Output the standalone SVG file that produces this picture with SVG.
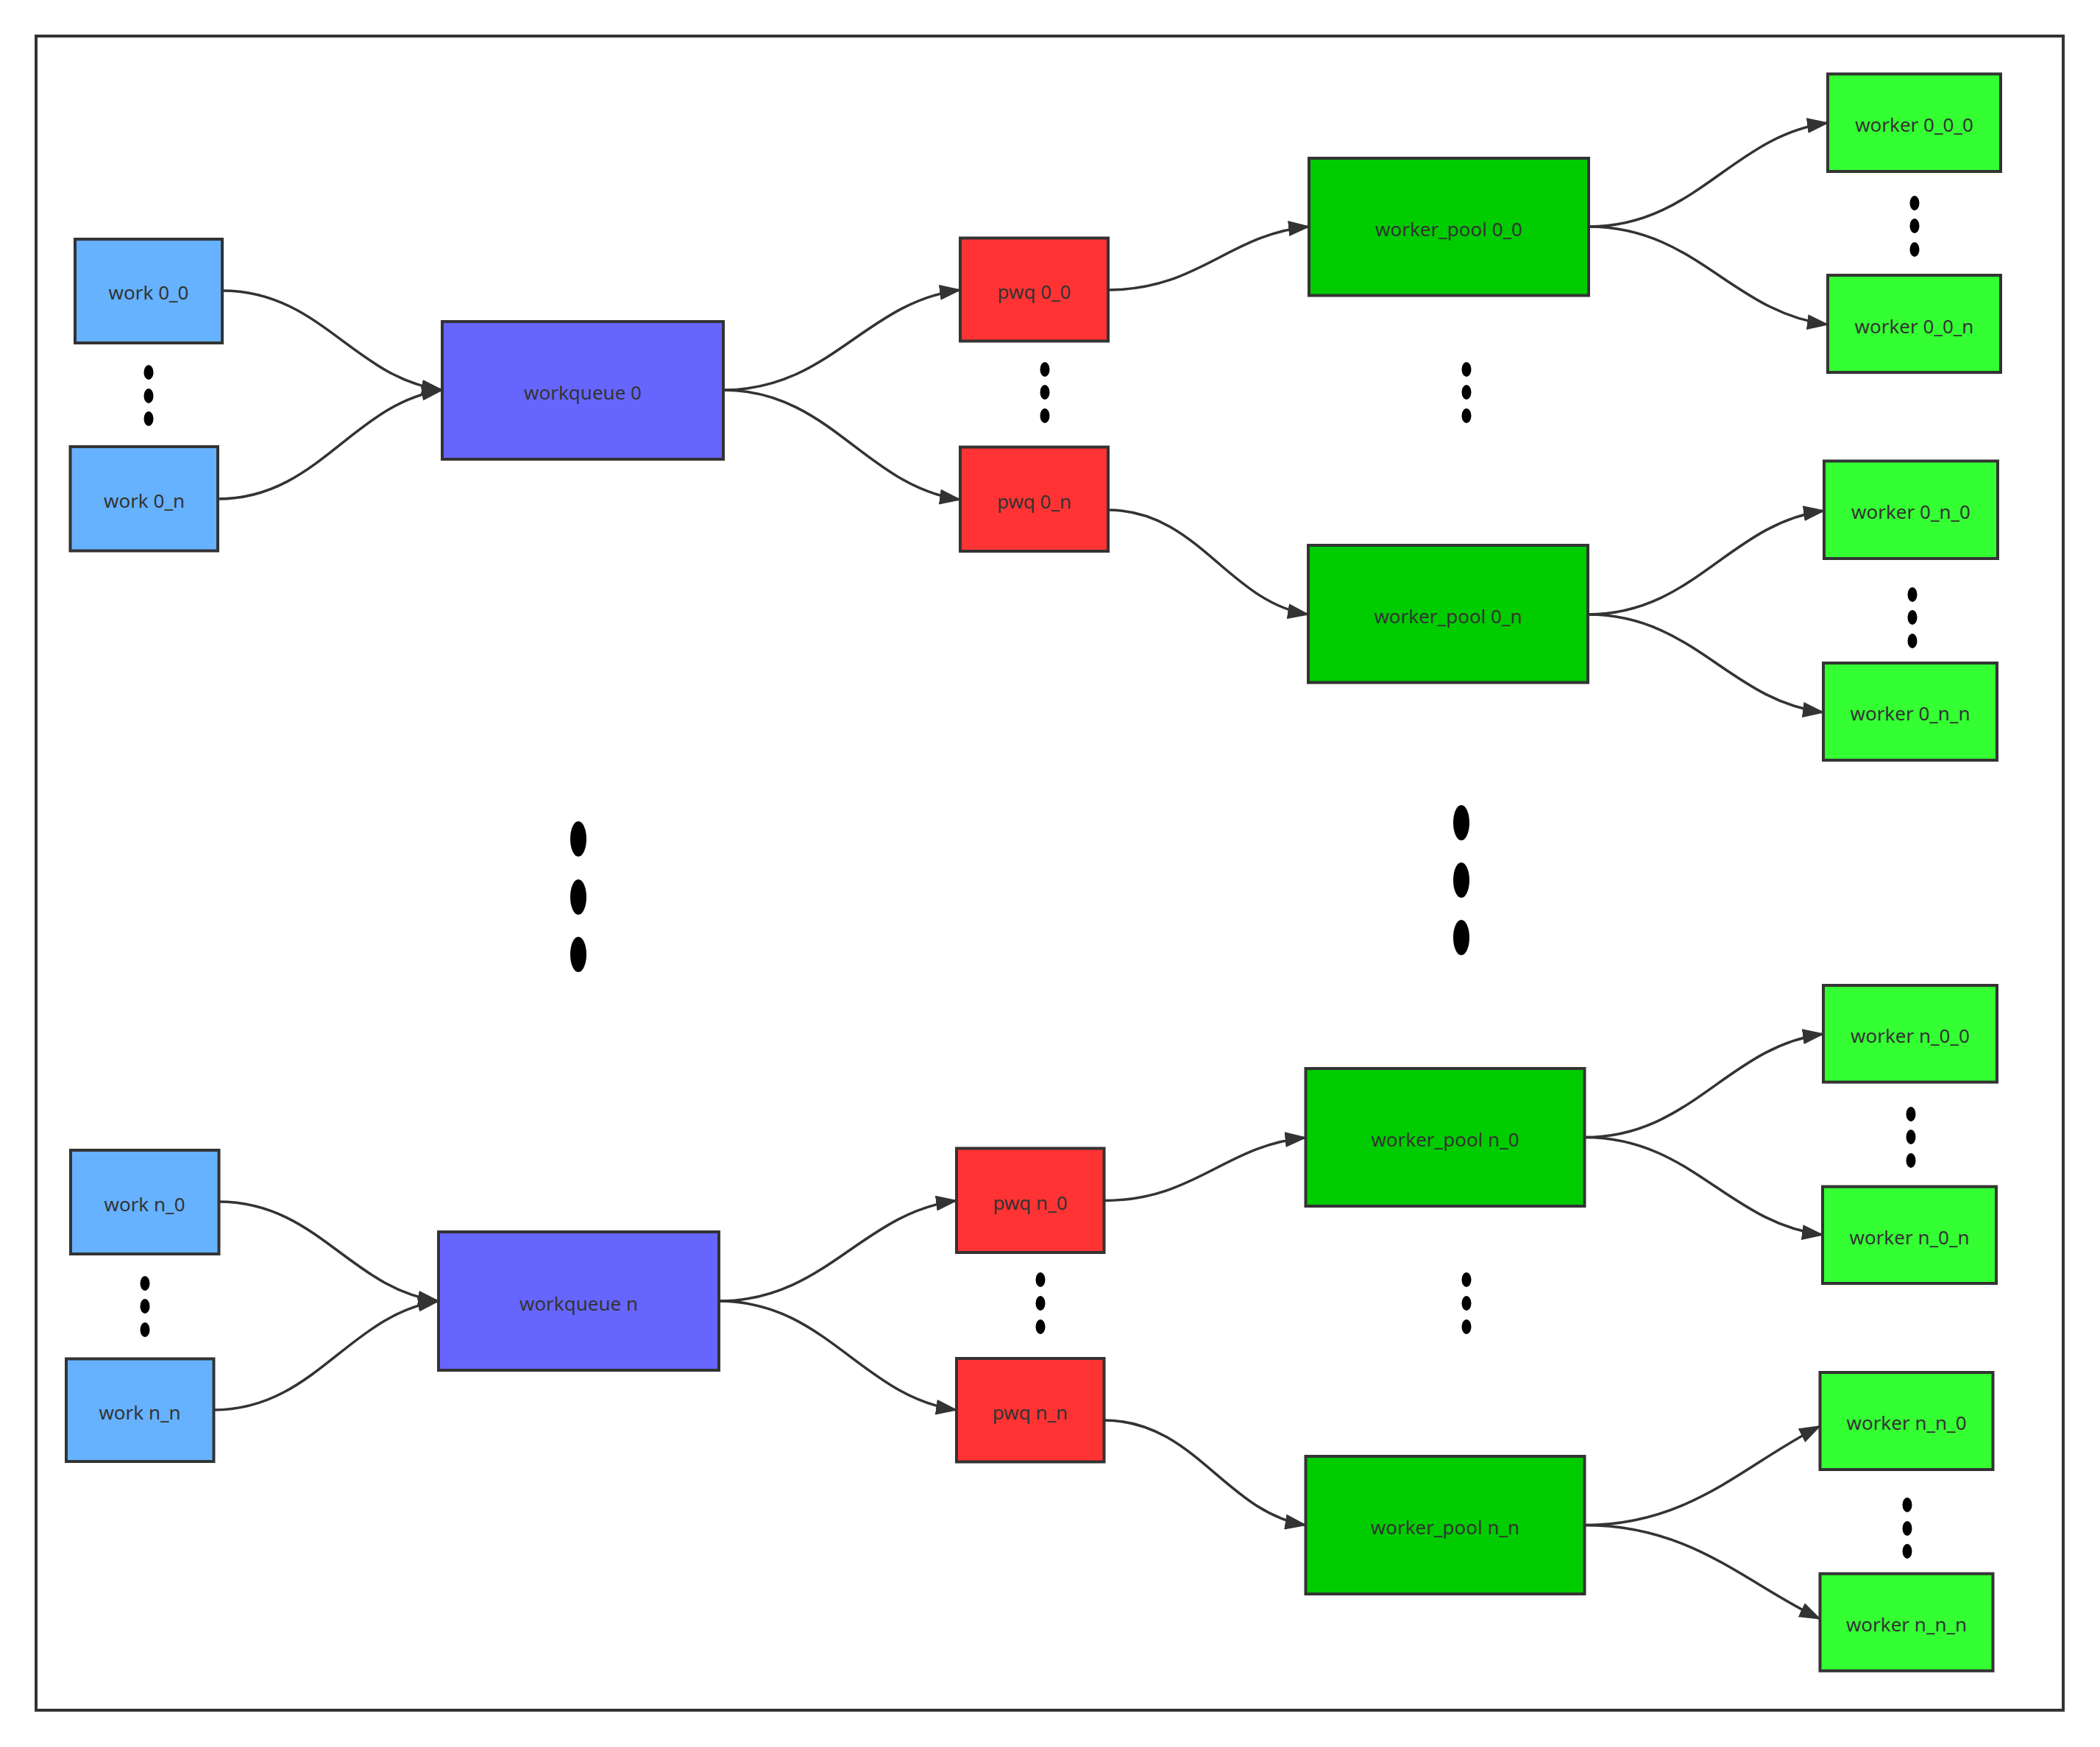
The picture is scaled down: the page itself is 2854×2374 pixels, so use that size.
<svg xmlns="http://www.w3.org/2000/svg" width="2854" height="2374" viewBox="0 0 2854 2374">
<style>
.n rect{stroke:#333;stroke-width:4}
.work rect{fill:#66b2ff}
.wq rect{fill:#6666ff}
.pwq rect{fill:#ff3333}
.pool rect{fill:#00cc00}
.wk rect{fill:#33ff33}
.n text{font-family:"Noto Sans","Liberation Sans",sans-serif;font-size:26px;fill:#333;text-anchor:middle;dominant-baseline:central}
.e path{fill:none;stroke:#333;stroke-width:3.5;marker-end:url(#arr)}
.d ellipse{fill:#000}
</style>
<defs>
<marker id="arr" markerUnits="userSpaceOnUse" viewBox="0 0 30 21" markerWidth="30" markerHeight="21" refX="28" refY="10.5" orient="auto">
<path d="M0,0 L30,10.5 L0,21 z" fill="#333"/>
</marker>
</defs>
<rect x="49" y="49" width="2755" height="2275" fill="none" stroke="#333" stroke-width="4"/>
<g id="connectors" class="e">
<path d="M302,395 C436,395 481,514 601,530"/>
<path d="M296,678 C433,678 479,548 601,530"/>
<path d="M983,530 C1128,530 1176,410 1305,394"/>
<path d="M983,530 C1128,530 1176,661 1305,679"/>
<path d="M1506,394 C1629,394 1670,318 1779,308"/>
<path d="M1506,693 C1628,693 1669,818 1778,835"/>
<path d="M2159,308 C2305,308 2354,184 2484,167"/>
<path d="M2159,308 C2305,308 2354,425 2484,441"/>
<path d="M2158,835 C2302,835 2351,711 2479,694"/>
<path d="M2158,835 C2302,835 2350,952 2478,968"/>
<path d="M297,1633 C432,1633 476,1752 596,1768"/>
<path d="M290,1916 C428,1916 474,1786 596,1768"/>
<path d="M977,1768 C1122,1768 1171,1648 1300,1631.5"/>
<path d="M977,1768 C1122,1768 1171,1898 1300,1916"/>
<path d="M1500.5,1631.5 C1624,1631.5 1665,1556 1774.5,1546"/>
<path d="M1500.5,1930 C1624,1930 1665,2055 1774.5,2072.5"/>
<path d="M2153.5,1545.5 C2299,1545.5 2348,1422 2478,1405"/>
<path d="M2153.5,1545.5 C2299,1545.5 2348,1662 2477,1678"/>
<path d="M2153.5,2072.5 C2298,2072.5 2370,1990 2473.5,1938"/>
<path d="M2153.5,2072.5 C2298,2072.5 2370,2150 2473.5,2200"/>
</g>
<g id="work00" class="n work"><rect x="102" y="325" width="200" height="141"/><text x="202" y="397">work 0_0</text></g>
<g id="work0n" class="n work"><rect x="95.5" y="607" width="200.5" height="141.5"/><text x="196" y="680">work 0_n</text></g>
<g id="wq0" class="n wq"><rect x="601" y="437" width="382" height="187"/><text x="792" y="533">workqueue 0</text></g>
<g id="pwq00" class="n pwq"><rect x="1305" y="323.5" width="201" height="140"/><text x="1405.5" y="396">pwq 0_0</text></g>
<g id="pwq0n" class="n pwq"><rect x="1305" y="607.5" width="201" height="141.5"/><text x="1405.5" y="681">pwq 0_n</text></g>
<g id="pool00" class="n pool"><rect x="1779" y="215" width="380" height="186.5"/><text x="1969" y="311">worker_pool 0_0</text></g>
<g id="pool0n" class="n pool"><rect x="1778" y="741" width="380" height="186.5"/><text x="1968" y="837">worker_pool 0_n</text></g>
<g id="w000" class="n wk"><rect x="2484" y="100.5" width="235" height="132.5"/><text x="2601.5" y="169">worker 0_0_0</text></g>
<g id="w00n" class="n wk"><rect x="2484" y="374" width="235" height="132"/><text x="2601.5" y="443">worker 0_0_n</text></g>
<g id="w0n0" class="n wk"><rect x="2479" y="626.5" width="236" height="132.5"/><text x="2597" y="695">worker 0_n_0</text></g>
<g id="w0nn" class="n wk"><rect x="2478" y="901" width="236" height="132"/><text x="2596" y="969">worker 0_n_n</text></g>
<g id="workn0" class="n work"><rect x="96" y="1563" width="201.5" height="141"/><text x="196.5" y="1636">work n_0</text></g>
<g id="worknn" class="n work"><rect x="90" y="1846.5" width="200.5" height="139.5"/><text x="190" y="1919">work n_n</text></g>
<g id="wqn" class="n wq"><rect x="596" y="1674" width="381" height="188"/><text x="786.5" y="1771">workqueue n</text></g>
<g id="pwqn0" class="n pwq"><rect x="1300" y="1560.5" width="200.5" height="141.5"/><text x="1400" y="1634">pwq n_0</text></g>
<g id="pwqnn" class="n pwq"><rect x="1300" y="1846" width="200.5" height="140.5"/><text x="1400" y="1919">pwq n_n</text></g>
<g id="pooln0" class="n pool"><rect x="1774.5" y="1452" width="379" height="187"/><text x="1964" y="1548">worker_pool n_0</text></g>
<g id="poolnn" class="n pool"><rect x="1774.5" y="1979" width="379" height="187"/><text x="1964" y="2075">worker_pool n_n</text></g>
<g id="wn00" class="n wk"><rect x="2478" y="1339" width="236" height="131.5"/><text x="2596" y="1407">worker n_0_0</text></g>
<g id="wn0n" class="n wk"><rect x="2477" y="1612.5" width="236" height="131.5"/><text x="2595" y="1681">worker n_0_n</text></g>
<g id="wnn0" class="n wk"><rect x="2473.5" y="1865" width="235" height="132"/><text x="2591" y="1933">worker n_n_0</text></g>
<g id="wnnn" class="n wk"><rect x="2473.5" y="2138.5" width="235" height="132"/><text x="2591" y="2207">worker n_n_n</text></g>
<g id="ellipsis" class="d">
<ellipse cx="202" cy="506" rx="6.5" ry="10"/><ellipse cx="202" cy="538" rx="6.5" ry="10"/><ellipse cx="202" cy="569" rx="6.5" ry="10"/>
<ellipse cx="1420" cy="502" rx="6.5" ry="10"/><ellipse cx="1420" cy="533" rx="6.5" ry="10"/><ellipse cx="1420" cy="565" rx="6.5" ry="10"/>
<ellipse cx="1993" cy="502" rx="6.5" ry="10"/><ellipse cx="1993" cy="533" rx="6.5" ry="10"/><ellipse cx="1993" cy="565" rx="6.5" ry="10"/>
<ellipse cx="2602" cy="276" rx="6.5" ry="10"/><ellipse cx="2602" cy="307" rx="6.5" ry="10"/><ellipse cx="2602" cy="339" rx="6.5" ry="10"/>
<ellipse cx="2599" cy="808" rx="6.5" ry="10"/><ellipse cx="2599" cy="839" rx="6.5" ry="10"/><ellipse cx="2599" cy="871" rx="6.5" ry="10"/>
<ellipse cx="786" cy="1140" rx="11" ry="24"/><ellipse cx="786" cy="1219" rx="11" ry="24"/><ellipse cx="786" cy="1297" rx="11" ry="24"/>
<ellipse cx="1986" cy="1118" rx="11" ry="24"/><ellipse cx="1986" cy="1196" rx="11" ry="24"/><ellipse cx="1986" cy="1274" rx="11" ry="24"/>
<ellipse cx="197" cy="1744" rx="6.5" ry="10"/><ellipse cx="197" cy="1775" rx="6.5" ry="10"/><ellipse cx="197" cy="1807" rx="6.5" ry="10"/>
<ellipse cx="1414" cy="1739" rx="6.5" ry="10"/><ellipse cx="1414" cy="1771" rx="6.5" ry="10"/><ellipse cx="1414" cy="1803" rx="6.5" ry="10"/>
<ellipse cx="1993" cy="1739" rx="6.5" ry="10"/><ellipse cx="1993" cy="1771" rx="6.5" ry="10"/><ellipse cx="1993" cy="1803" rx="6.5" ry="10"/>
<ellipse cx="2597" cy="1514" rx="6.5" ry="10"/><ellipse cx="2597" cy="1545" rx="6.5" ry="10"/><ellipse cx="2597" cy="1577" rx="6.5" ry="10"/>
<ellipse cx="2592" cy="2045" rx="6.5" ry="10"/><ellipse cx="2592" cy="2077" rx="6.5" ry="10"/><ellipse cx="2592" cy="2108" rx="6.5" ry="10"/>
</g>
</svg>
